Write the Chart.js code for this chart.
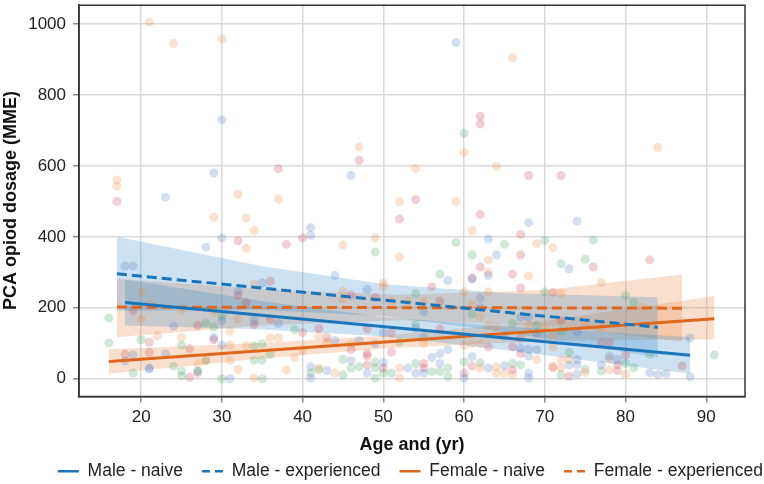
<!DOCTYPE html>
<html>
<head>
<meta charset="utf-8">
<script src="https://cdn.jsdelivr.net/npm/chart.js@4.4.1/dist/chart.umd.min.js"></script>
<style>
  html, body { margin: 0; padding: 0; background: #fff; }
  #wrap { width: 764px; height: 484px; position: relative; }
</style>
</head>
<body>
<div id="wrap"><canvas id="chart"></canvas></div>
<script>
// ---- axis ticks ----
const xTicks = [20, 30, 40, 50, 60, 70, 80, 90];
const yTicks = [0, 200, 400, 600, 800, 1000];

// ---- fitted lines (age endpoints, dosage) ----
const maleNaiveX = [18, 88],   maleNaiveY = [215, 66];
const maleExpX   = [17, 84],   maleExpY   = [296, 145];
const femNaiveX  = [16, 91],   femNaiveY  = [49, 169];
const femExpX    = [17, 87],   femExpY    = [202, 199];

// ---- confidence bands ----
const maleNaiveBandX  = [18, 35, 50, 65, 88];
const maleNaiveBandLo = [150, 139, 120, 81, 14];
const maleNaiveBandHi = [280, 219, 174, 147, 118];

const maleExpBandX  = [17, 35, 50, 65, 84];
const maleExpBandLo = [192, 194, 177, 132, 60];
const maleExpBandHi = [400, 317, 267, 242, 230];

const femNaiveBandX  = [16, 35, 50, 70, 91];
const femNaiveBandLo = [14, 57, 85, 107, 111];
const femNaiveBandHi = [83, 101, 121, 163, 233];

const femExpBandX  = [17, 35, 52, 70, 87];
const femExpBandLo = [117, 150, 165, 150, 104];
const femExpBandHi = [282, 252, 237, 250, 294];

// ---- scatter points, by colour ----
const blueAge = [30,29,23,59,46,30,28,18,19,24,18,19,21,21,23,27,29,30,30,31,32,34,
  41,41,63,64,63,58,61,62,44,35,48,55,62,37,44,47,54,50,55,58,65,49,41,41,43,46,48,50,53,54,55,56,57,57,60,61,63,65,
  68,74,73,67,68,74,69,88,67,68,69,68,78,79,77,73,74,74,83,84,85,88,74,68,68];
const blueVal = [730,580,512,948,573,397,371,318,318,148,50,67,30,28,70,20,116,164,95,0,247,164,
  426,404,394,349,291,277,281,228,291,270,252,189,201,156,108,108,142,130,117,82,122,99,34,2,23,51,16,46,30,16,16,60,71,43,2,62,30,37,
  440,444,310,173,173,132,128,115,85,83,82,64,64,55,39,39,54,39,17,12,14,6,13,16,2];

const orangeAge = [21,24,30,32,17,17,66,60,47,54,64,37,52,59,84,29,33,33,34,20,20,21,22,25,25,27,28,29,31,31,31,32,32,33,34,34,27,
  45,49,52,61,63,63,60,63,50,50,45,45,51,53,55,61,62,63,64,42,43,55,60,61,62,36,37,39,40,46,38,42,44,52,52,62,64,64,65,66,
  69,71,68,77,72,82,68,70,75,77,71,71,69,72,78,73,71,75,78,80,72];
const orangeVal = [1005,945,958,520,560,543,905,638,653,593,599,507,499,500,652,455,453,368,418,244,168,210,121,116,194,42,50,187,95,51,134,26,168,93,2,267,14,
  377,398,344,418,335,300,245,245,270,261,247,224,219,219,219,210,175,150,145,121,104,99,94,99,99,115,115,60,79,99,25,30,16,30,2,30,34,16,16,11,
  381,369,290,271,241,203,151,145,150,145,122,90,54,53,56,54,36,18,25,13,30];

const greenAge = [60,16,16,20,19,24,25,25,27,25,28,28,29,30,30,34,34,
  49,59,61,65,57,54,61,66,39,54,52,35,36,35,35,41,42,45,45,46,47,49,49,49,50,51,54,56,57,58,58,60,62,66,67,
  70,76,72,75,70,80,81,69,72,73,83,91,80,75,77,81,72];
const greenVal = [692,171,101,110,16,35,22,8,22,94,52,157,146,176,0,93,52,
  357,384,349,379,295,240,182,156,138,153,104,99,69,53,0,16,25,55,11,30,34,47,30,2,16,16,43,20,20,30,6,48,45,43,39,
  390,391,324,337,245,235,216,151,134,75,69,67,43,27,22,31,11];

const redAge = [17,62,62,47,37,54,68,72,32,32,33,19,21,18,21,26,26,27,29,34,
  40,38,52,62,62,66,56,61,36,46,49,57,36,40,42,43,48,51,57,63,66,46,48,48,51,48,50,55,55,60,61,66,
  67,67,76,83,67,71,72,67,77,78,67,80,79,71,79,87,73];
const redVal = [500,740,718,616,592,505,573,573,389,235,214,192,103,69,75,4,85,150,110,153,
  397,379,450,463,315,295,259,284,275,236,229,219,168,130,142,117,141,129,140,90,90,82,71,64,75,39,30,43,30,16,36,25,
  407,349,315,335,256,243,164,113,102,102,71,67,39,31,23,36,7];

const legendNames = ["Male - naive", "Male - experienced", "Female - naive", "Female - experienced"];

const BLUE = "#1a75bb";
const ORANGE = "#e0661c";
const BAND_BLUE = "rgba(40,130,195,0.24)";
const BAND_ORANGE = "rgba(232,125,50,0.24)";

function pts(xs, ys){ return xs.map((x, i) => ({ x, y: ys[i] })); }

function lineSet(label, xs, ys, color, dashed){
  return {
    type: "line", label, data: pts(xs, ys),
    borderColor: color, backgroundColor: color, borderWidth: 3,
    borderDash: dashed ? [10, 5] : [], pointRadius: 0, fill: false, order: 0
  };
}
function bandSets(name, xs, lo, hi, fillColor){
  return [
    { type: "line", label: name + " lo", data: pts(xs, lo), borderColor: "rgba(0,0,0,0)",
      borderWidth: 1, pointRadius: 0, fill: false, order: 3 },
    { type: "line", label: name + " hi", data: pts(xs, hi), borderColor: "rgba(0,0,0,0)",
      borderWidth: 1, pointRadius: 0, fill: "-1", backgroundColor: fillColor, order: 3 }
  ];
}
function dotSet(label, xs, ys, color){
  return { type: "scatter", label, data: pts(xs, ys), backgroundColor: color,
    borderWidth: 0, pointRadius: 4.5, order: 2 };
}

// box round the plot area
const frame = {
  id: "frame",
  afterDraw(c){
    const a = c.chartArea, ctx = c.ctx;
    ctx.save();
    ctx.strokeStyle = "#333";
    ctx.lineWidth = 1.5;
    ctx.strokeRect(a.left, a.top + 0.75, a.right - a.left, a.bottom - a.top - 0.75);
    ctx.restore();
  }
};

function noPad(ax){
  ax.paddingTop = 0; ax.paddingBottom = 0; ax.paddingLeft = 0; ax.paddingRight = 0;
}

Chart.defaults.font.family = "'Liberation Sans', Arial, sans-serif";
Chart.defaults.font.size = 17;
Chart.defaults.color = "#222";

new Chart(document.getElementById("chart"), {
  data: {
    datasets: [
      lineSet(legendNames[0], maleNaiveX, maleNaiveY, BLUE, false),
      lineSet(legendNames[1], maleExpX, maleExpY, BLUE, true),
      lineSet(legendNames[2], femNaiveX, femNaiveY, ORANGE, false),
      lineSet(legendNames[3], femExpX, femExpY, ORANGE, true),
      ...bandSets("mn", maleNaiveBandX, maleNaiveBandLo, maleNaiveBandHi, BAND_BLUE),
      ...bandSets("me", maleExpBandX, maleExpBandLo, maleExpBandHi, BAND_BLUE),
      ...bandSets("fn", femNaiveBandX, femNaiveBandLo, femNaiveBandHi, BAND_ORANGE),
      ...bandSets("fe", femExpBandX, femExpBandLo, femExpBandHi, BAND_ORANGE),
      dotSet("blue", blueAge, blueVal, "rgba(70,115,195,0.24)"),
      dotSet("orange", orangeAge, orangeVal, "rgba(238,140,70,0.26)"),
      dotSet("green", greenAge, greenVal, "rgba(60,160,90,0.24)"),
      dotSet("red", redAge, redVal, "rgba(205,70,80,0.26)")
    ]
  },
  options: {
    responsive: true,
    maintainAspectRatio: false,
    animation: false,
    layout: { padding: { top: 0, right: -18, bottom: -6, left: 0 } },
    plugins: {
      tooltip: { enabled: false },
      legend: {
        position: "bottom",
        align: "end",
        labels: {
          usePointStyle: true, pointStyle: "line", pointStyleWidth: 21,
          padding: 19, color: "#222", font: { size: 17.5 },
          generateLabels(chart){
            const items = Chart.defaults.plugins.legend.labels.generateLabels(chart);
            return items.filter(it => legendNames.includes(it.text)).map(it => {
              const ds = chart.data.datasets[it.datasetIndex];
              it.lineDash = ds.borderDash.length ? [8, 5] : [];
              it.lineWidth = 2.5;
              it.strokeStyle = ds.borderColor;
              return it;
            });
          }
        }
      }
    },
    scales: {
      x: {
        type: "linear", min: 12.3, max: 94.8,
        afterBuildTicks: ax => { ax.ticks = xTicks.map(v => ({ value: v })); },
        afterFit: noPad,
        ticks: { color: "#222", padding: 5 },
        grid: { color: "#d9d9d9", lineWidth: 1.5, tickLength: 6, tickColor: "#888" },
        border: { color: "#333", width: 1.5 },
        title: { display: true, text: "Age and (yr)", color: "#111",
                 font: { size: 18, weight: "bold" }, padding: { top: 1.3, bottom: -12.3 } }
      },
      y: {
        type: "linear", min: -50, max: 1055,
        afterBuildTicks: ax => { ax.ticks = yTicks.map(v => ({ value: v })); },
        afterFit: ax => { ax.width = 79; noPad(ax); },
        ticks: { color: "#222", padding: 7, callback: v => String(v) },
        grid: { color: "#d9d9d9", lineWidth: 1.5, tickLength: 6, tickColor: "#888" },
        border: { color: "#333", width: 1.5 },
        title: { display: true, text: "PCA opiod dosage (MME)", color: "#111",
                 font: { size: 18, weight: "bold" }, padding: 0 }
      },
      // empty spacer on the right so the legend can run to the edge
      yR: {
        type: "linear", position: "right", display: true,
        afterFit: ax => { ax.width = 37; noPad(ax); },
        ticks: { display: false }, grid: { display: false }, border: { display: false }
      }
    }
  },
  plugins: [frame]
});
</script>
</body>
</html>
